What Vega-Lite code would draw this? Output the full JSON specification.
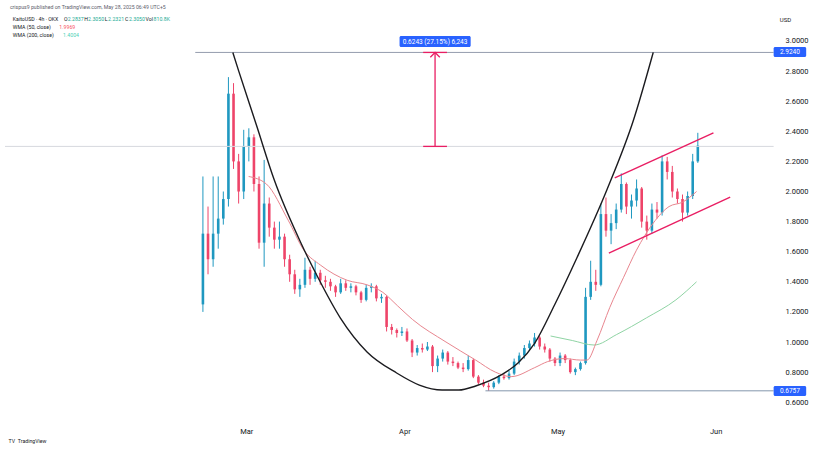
{
  "$schema": "https://vega.github.io/schema/vega-lite/v6.json",
  "width": 760,
  "height": 412,
  "autosize": {"type": "none"},
  "padding": {"left": 0, "top": 0, "right": 59, "bottom": 44},
  "background": "#ffffff",
  "config": {"view": {"stroke": null}, "font": "Roboto", "axis": {"labelOverlap": false}},
  "datasets": {
    "candles": [
      {"date":"2025-02-20T12:00","open":1.25,"high":2.10,"low":1.20,"close":1.72},
      {"date":"2025-02-21T12:00","open":1.72,"high":1.90,"low":1.45,"close":1.55},
      {"date":"2025-02-22T12:00","open":1.55,"high":2.10,"low":1.50,"close":1.72},
      {"date":"2025-02-23T12:00","open":1.72,"high":2.10,"low":1.62,"close":1.82},
      {"date":"2025-02-24T12:00","open":1.82,"high":2.00,"low":1.78,"close":1.95},
      {"date":"2025-02-25T12:00","open":1.95,"high":2.76,"low":1.90,"close":2.65},
      {"date":"2025-02-26T12:00","open":2.65,"high":2.72,"low":2.15,"close":2.20},
      {"date":"2025-02-27T12:00","open":2.20,"high":2.25,"low":1.92,"close":2.00},
      {"date":"2025-02-28T12:00","open":2.00,"high":2.41,"low":1.95,"close":2.30},
      {"date":"2025-03-01T12:00","open":2.30,"high":2.42,"low":2.20,"close":2.36},
      {"date":"2025-03-02T12:00","open":2.36,"high":2.38,"low":2.00,"close":2.05},
      {"date":"2025-03-03T12:00","open":2.05,"high":2.10,"low":1.62,"close":1.66},
      {"date":"2025-03-04T12:00","open":1.66,"high":2.21,"low":1.50,"close":1.92},
      {"date":"2025-03-05T12:00","open":1.92,"high":1.96,"low":1.70,"close":1.76},
      {"date":"2025-03-06T12:00","open":1.76,"high":1.80,"low":1.62,"close":1.68},
      {"date":"2025-03-07T12:00","open":1.68,"high":1.80,"low":1.62,"close":1.70},
      {"date":"2025-03-08T12:00","open":1.70,"high":1.72,"low":1.50,"close":1.55},
      {"date":"2025-03-09T12:00","open":1.55,"high":1.58,"low":1.40,"close":1.45},
      {"date":"2025-03-10T12:00","open":1.45,"high":1.48,"low":1.32,"close":1.35},
      {"date":"2025-03-11T12:00","open":1.35,"high":1.42,"low":1.30,"close":1.38},
      {"date":"2025-03-12T12:00","open":1.38,"high":1.56,"low":1.36,"close":1.48},
      {"date":"2025-03-13T12:00","open":1.48,"high":1.50,"low":1.38,"close":1.42},
      {"date":"2025-03-14T12:00","open":1.42,"high":1.54,"low":1.40,"close":1.46},
      {"date":"2025-03-15T12:00","open":1.46,"high":1.48,"low":1.38,"close":1.41},
      {"date":"2025-03-16T12:00","open":1.41,"high":1.44,"low":1.36,"close":1.40},
      {"date":"2025-03-17T12:00","open":1.40,"high":1.42,"low":1.34,"close":1.37},
      {"date":"2025-03-18T12:00","open":1.37,"high":1.38,"low":1.30,"close":1.33},
      {"date":"2025-03-19T12:00","open":1.33,"high":1.42,"low":1.32,"close":1.39},
      {"date":"2025-03-20T12:00","open":1.39,"high":1.41,"low":1.34,"close":1.36},
      {"date":"2025-03-21T12:00","open":1.36,"high":1.39,"low":1.33,"close":1.37},
      {"date":"2025-03-22T12:00","open":1.37,"high":1.38,"low":1.31,"close":1.33},
      {"date":"2025-03-23T12:00","open":1.33,"high":1.34,"low":1.26,"close":1.28},
      {"date":"2025-03-24T12:00","open":1.28,"high":1.38,"low":1.27,"close":1.36},
      {"date":"2025-03-25T12:00","open":1.36,"high":1.39,"low":1.33,"close":1.37},
      {"date":"2025-03-26T12:00","open":1.37,"high":1.38,"low":1.27,"close":1.29},
      {"date":"2025-03-27T12:00","open":1.29,"high":1.32,"low":1.26,"close":1.30},
      {"date":"2025-03-28T12:00","open":1.30,"high":1.31,"low":1.07,"close":1.10},
      {"date":"2025-03-29T12:00","open":1.10,"high":1.12,"low":1.05,"close":1.08},
      {"date":"2025-03-30T12:00","open":1.08,"high":1.09,"low":1.03,"close":1.06},
      {"date":"2025-03-31T12:00","open":1.06,"high":1.10,"low":1.04,"close":1.07},
      {"date":"2025-04-01T12:00","open":1.07,"high":1.09,"low":1.00,"close":1.01},
      {"date":"2025-04-02T12:00","open":1.01,"high":1.02,"low":0.90,"close":0.93},
      {"date":"2025-04-03T12:00","open":0.93,"high":0.98,"low":0.91,"close":0.96},
      {"date":"2025-04-04T12:00","open":0.96,"high":0.99,"low":0.93,"close":0.95},
      {"date":"2025-04-05T12:00","open":0.95,"high":1.00,"low":0.94,"close":0.97},
      {"date":"2025-04-06T12:00","open":0.97,"high":0.98,"low":0.80,"close":0.84},
      {"date":"2025-04-07T12:00","open":0.84,"high":0.91,"low":0.80,"close":0.89},
      {"date":"2025-04-08T12:00","open":0.89,"high":0.95,"low":0.87,"close":0.93},
      {"date":"2025-04-09T12:00","open":0.93,"high":0.94,"low":0.85,"close":0.87},
      {"date":"2025-04-10T12:00","open":0.87,"high":0.90,"low":0.84,"close":0.86},
      {"date":"2025-04-11T12:00","open":0.86,"high":0.87,"low":0.82,"close":0.83},
      {"date":"2025-04-12T12:00","open":0.83,"high":0.86,"low":0.80,"close":0.82},
      {"date":"2025-04-13T12:00","open":0.82,"high":0.91,"low":0.81,"close":0.88},
      {"date":"2025-04-14T12:00","open":0.88,"high":0.89,"low":0.76,"close":0.77},
      {"date":"2025-04-15T12:00","open":0.77,"high":0.78,"low":0.72,"close":0.73},
      {"date":"2025-04-16T12:00","open":0.73,"high":0.75,"low":0.70,"close":0.71},
      {"date":"2025-04-17T12:00","open":0.71,"high":0.73,"low":0.6757,"close":0.70},
      {"date":"2025-04-18T12:00","open":0.70,"high":0.74,"low":0.69,"close":0.73},
      {"date":"2025-04-19T12:00","open":0.73,"high":0.78,"low":0.72,"close":0.77},
      {"date":"2025-04-20T12:00","open":0.77,"high":0.79,"low":0.75,"close":0.76},
      {"date":"2025-04-21T12:00","open":0.76,"high":0.81,"low":0.75,"close":0.79},
      {"date":"2025-04-22T12:00","open":0.79,"high":0.89,"low":0.78,"close":0.87},
      {"date":"2025-04-23T12:00","open":0.87,"high":0.93,"low":0.85,"close":0.91},
      {"date":"2025-04-24T12:00","open":0.91,"high":0.98,"low":0.89,"close":0.96},
      {"date":"2025-04-25T12:00","open":0.96,"high":1.01,"low":0.94,"close":0.99},
      {"date":"2025-04-26T12:00","open":0.99,"high":1.06,"low":0.97,"close":1.03},
      {"date":"2025-04-27T12:00","open":1.03,"high":1.04,"low":0.95,"close":0.97},
      {"date":"2025-04-28T12:00","open":0.97,"high":0.99,"low":0.93,"close":0.95},
      {"date":"2025-04-29T12:00","open":0.95,"high":0.96,"low":0.87,"close":0.89},
      {"date":"2025-04-30T12:00","open":0.89,"high":0.90,"low":0.84,"close":0.86},
      {"date":"2025-05-01T12:00","open":0.86,"high":0.93,"low":0.84,"close":0.91},
      {"date":"2025-05-02T12:00","open":0.91,"high":0.92,"low":0.86,"close":0.88},
      {"date":"2025-05-03T12:00","open":0.88,"high":0.89,"low":0.79,"close":0.80},
      {"date":"2025-05-04T12:00","open":0.80,"high":0.83,"low":0.78,"close":0.82},
      {"date":"2025-05-05T12:00","open":0.82,"high":0.87,"low":0.81,"close":0.86},
      {"date":"2025-05-06T12:00","open":0.86,"high":1.36,"low":0.85,"close":1.30},
      {"date":"2025-05-07T12:00","open":1.30,"high":1.54,"low":1.28,"close":1.40},
      {"date":"2025-05-08T12:00","open":1.40,"high":1.48,"low":1.34,"close":1.38},
      {"date":"2025-05-09T12:00","open":1.38,"high":1.92,"low":1.37,"close":1.85},
      {"date":"2025-05-10T12:00","open":1.85,"high":1.96,"low":1.70,"close":1.74},
      {"date":"2025-05-11T12:00","open":1.74,"high":1.85,"low":1.65,"close":1.79},
      {"date":"2025-05-12T12:00","open":1.79,"high":1.92,"low":1.75,"close":1.88},
      {"date":"2025-05-13T12:00","open":1.88,"high":2.12,"low":1.86,"close":2.05},
      {"date":"2025-05-14T12:00","open":2.05,"high":2.06,"low":1.85,"close":1.90},
      {"date":"2025-05-15T12:00","open":1.90,"high":1.98,"low":1.82,"close":1.94},
      {"date":"2025-05-16T12:00","open":1.94,"high":2.08,"low":1.90,"close":2.02},
      {"date":"2025-05-17T12:00","open":2.02,"high":2.03,"low":1.76,"close":1.80},
      {"date":"2025-05-18T12:00","open":1.80,"high":1.84,"low":1.68,"close":1.74},
      {"date":"2025-05-19T12:00","open":1.74,"high":1.92,"low":1.72,"close":1.88},
      {"date":"2025-05-20T12:00","open":1.88,"high":1.93,"low":1.82,"close":1.86},
      {"date":"2025-05-21T12:00","open":1.86,"high":2.24,"low":1.84,"close":2.20},
      {"date":"2025-05-22T12:00","open":2.20,"high":2.23,"low":2.08,"close":2.13},
      {"date":"2025-05-23T12:00","open":2.13,"high":2.17,"low":1.96,"close":2.00},
      {"date":"2025-05-24T12:00","open":2.00,"high":2.02,"low":1.92,"close":1.95},
      {"date":"2025-05-25T12:00","open":1.95,"high":1.98,"low":1.80,"close":1.86},
      {"date":"2025-05-26T12:00","open":1.86,"high":2.00,"low":1.84,"close":1.97},
      {"date":"2025-05-27T12:00","open":1.97,"high":2.25,"low":1.95,"close":2.20},
      {"date":"2025-05-28T12:00","open":2.20,"high":2.39,"low":2.19,"close":2.305}
    ],
    "wma50": [
      {"date":"2025-03-01T11:00","price":2.10},
      {"date":"2025-03-04T22:30","price":2.05},
      {"date":"2025-03-09T04:50","price":1.81},
      {"date":"2025-03-12T07:00","price":1.61},
      {"date":"2025-03-15T14:00","price":1.51},
      {"date":"2025-03-20T19:00","price":1.41},
      {"date":"2025-03-24T16:00","price":1.38},
      {"date":"2025-03-27T18:15","price":1.33},
      {"date":"2025-03-30T16:00","price":1.24},
      {"date":"2025-04-02T13:40","price":1.15},
      {"date":"2025-04-09T03:20","price":1.00},
      {"date":"2025-04-14T23:00","price":0.88},
      {"date":"2025-04-18T19:30","price":0.80},
      {"date":"2025-04-21T22:00","price":0.77},
      {"date":"2025-04-26T13:00","price":0.83},
      {"date":"2025-04-29T01:40","price":0.87},
      {"date":"2025-05-02T08:30","price":0.89},
      {"date":"2025-05-05T10:50","price":0.88},
      {"date":"2025-05-06T19:10","price":0.88},
      {"date":"2025-05-08T17:45","price":1.01},
      {"date":"2025-05-11T06:00","price":1.23},
      {"date":"2025-05-13T23:00","price":1.43},
      {"date":"2025-05-16T11:20","price":1.61},
      {"date":"2025-05-19T18:15","price":1.79},
      {"date":"2025-05-22T20:40","price":1.90},
      {"date":"2025-05-25T13:30","price":1.93},
      {"date":"2025-05-28T06:00","price":2.00}
    ],
    "wma200": [
      {"date":"2025-04-29T15:30","price":1.04},
      {"date":"2025-05-03T21:40","price":1.01},
      {"date":"2025-05-08T03:50","price":0.98},
      {"date":"2025-05-12T14:30","price":1.05},
      {"date":"2025-05-18T09:50","price":1.16},
      {"date":"2025-05-24T05:00","price":1.28},
      {"date":"2025-05-28T06:00","price":1.40}
    ],
    "cup": [
      {"date":"2025-02-26T08:40","price":2.924},
      {"date":"2025-02-27T12:30","price":2.80},
      {"date":"2025-03-03T00:00","price":2.44},
      {"date":"2025-03-06T11:45","price":2.076},
      {"date":"2025-03-11T17:00","price":1.658},
      {"date":"2025-03-15T00:00","price":1.432},
      {"date":"2025-03-19T10:50","price":1.159},
      {"date":"2025-03-24T16:00","price":0.934},
      {"date":"2025-03-30T11:20","price":0.794},
      {"date":"2025-04-03T22:00","price":0.714},
      {"date":"2025-04-08T09:00","price":0.681},
      {"date":"2025-04-11T16:00","price":0.681},
      {"date":"2025-04-14T23:00","price":0.708},
      {"date":"2025-04-19T23:20","price":0.781},
      {"date":"2025-04-23T06:15","price":0.860},
      {"date":"2025-04-26T13:00","price":0.993},
      {"date":"2025-04-30T10:00","price":1.246},
      {"date":"2025-05-04T21:00","price":1.565},
      {"date":"2025-05-10T16:00","price":2.010},
      {"date":"2025-05-15T21:30","price":2.475},
      {"date":"2025-05-19T18:15","price":2.924}
    ],
    "channel": [
      {"line":"upper","date":"2025-05-12T05:15","price":2.090},
      {"line":"upper","date":"2025-05-31T13:30","price":2.389},
      {"line":"lower","date":"2025-05-11T01:30","price":1.591},
      {"line":"lower","date":"2025-06-03T20:25","price":1.963}
    ],
    "texts": [
      {"date":"2025-01-13T16:00","price":3.226,"text":"crispus9 published on TradingView.com, May 28, 2025 06:49 UTC+5","role":"meta"},
      {"date":"2025-01-14T06:00","price":3.146,"text":"KaitoUSD · 4h · OKX","role":"label"},
      {"date":"2025-01-24T06:00","price":3.146,"text":"O","role":"label"},
      {"date":"2025-01-25T00:00","price":3.146,"text":"2.2837","role":"val"},
      {"date":"2025-01-28T06:00","price":3.146,"text":"H","role":"label"},
      {"date":"2025-01-29T00:00","price":3.146,"text":"2.3050","role":"val"},
      {"date":"2025-02-01T06:00","price":3.146,"text":"L","role":"label"},
      {"date":"2025-02-01T22:00","price":3.146,"text":"2.2321","role":"val"},
      {"date":"2025-02-05T06:00","price":3.146,"text":"C","role":"label"},
      {"date":"2025-02-06T00:00","price":3.146,"text":"2.3050","role":"val"},
      {"date":"2025-02-09T06:00","price":3.146,"text":"Vol","role":"label"},
      {"date":"2025-02-10T20:00","price":3.146,"text":"810.8K","role":"val"},
      {"date":"2025-01-14T06:00","price":3.093,"text":"WMA (50, close)","role":"label"},
      {"date":"2025-01-23T08:20","price":3.093,"text":"1.9969","role":"wma50"},
      {"date":"2025-01-14T06:00","price":3.040,"text":"WMA (200, close)","role":"label"},
      {"date":"2025-01-24T02:00","price":3.040,"text":"1.4004","role":"wma200"},
      {"date":"2025-01-13T10:00","price":0.342,"text":"TV","role":"logo"},
      {"date":"2025-01-15T05:20","price":0.342,"text":"TradingView","role":"logo"}
    ]
  },
  "layer": [
    {
      "data": {"name": "candles"},
      "mark": {"type": "rule", "strokeWidth": 1},
      "encoding": {
        "x": {
          "field": "date", "type": "temporal", "title": null,
          "scale": {"domain": [{"year":2025,"month":1,"date":12,"hours":17},{"year":2025,"month":6,"date":8,"hours":17}]},
          "axis": {
            "values": [{"year":2025,"month":3,"date":1},{"year":2025,"month":4,"date":1},{"year":2025,"month":5,"date":1},{"year":2025,"month":6,"date":1}],
            "tickCount": 20,
            "format": "%b", "labelFontSize": 7.5, "labelColor": "#131722", "labelFont": "Roboto",
            "domain": false, "ticks": false, "tickSize": 0, "grid": false, "labelPadding": 15, "title": null
          }
        },
        "y": {
          "field": "low", "type": "quantitative", "title": null,
          "scale": {"domain": [0.535, 3.2724], "nice": false, "zero": false},
          "axis": {
            "orient": "right",
            "values": [0.6,0.8,1.0,1.2,1.4,1.6,1.8,2.0,2.2,2.4,2.6,2.8,3.0],
            "tickCount": 30,
            "format": ".4f", "labelFontSize": 7.5, "labelColor": "#131722", "labelFont": "Roboto",
            "labelOverlap": false, "labelBound": false,
            "domain": false, "ticks": false, "tickSize": 0, "grid": false, "labelPadding": 25, "title": null
          }
        },
        "y2": {"field": "high"},
        "color": {"condition": {"test": "datum.close >= datum.open", "value": "#1f98c0"}, "value": "#ee4469"}
      }
    },
    {
      "data": {"name": "candles"},
      "mark": {"type": "bar", "width": 2.6},
      "encoding": {
        "x": {"field": "date", "type": "temporal", "title": null},
        "y": {"field": "open", "type": "quantitative", "title": null},
        "y2": {"field": "close"},
        "color": {"condition": {"test": "datum.close >= datum.open", "value": "#1f98c0"}, "value": "#ee4469"}
      }
    },
    {
      "data": {"values": [{"date":"2025-01-12T17:00","date2":"2025-06-12T08:40","price":2.2997}]},
      "mark": {"type": "rule", "color": "#d6d8de", "strokeWidth": 1},
      "encoding": {
        "x": {"field": "date", "type": "temporal", "title": null},
        "x2": {"field": "date2"},
        "y": {"field": "price", "type": "quantitative", "title": null}
      }
    },
    {
      "data": {"values": [{"date":"2025-02-19T00:00","date2":"2025-06-12T08:40","price":2.924}]},
      "mark": {"type": "rule", "color": "#949cad", "strokeWidth": 1},
      "encoding": {
        "x": {"field": "date", "type": "temporal", "title": null},
        "x2": {"field": "date2"},
        "y": {"field": "price", "type": "quantitative", "title": null}
      }
    },
    {
      "data": {"values": [{"date":"2025-04-16T21:00","date2":"2025-06-12T08:40","price":0.6757}]},
      "mark": {"type": "rule", "color": "#8496ad", "strokeWidth": 1},
      "encoding": {
        "x": {"field": "date", "type": "temporal", "title": null},
        "x2": {"field": "date2"},
        "y": {"field": "price", "type": "quantitative", "title": null}
      }
    },
    {
      "data": {"name": "wma200"},
      "mark": {"type": "line", "color": "#8fd4a4", "strokeWidth": 1, "interpolate": "monotone"},
      "encoding": {
        "x": {"field": "date", "type": "temporal", "title": null},
        "y": {"field": "price", "type": "quantitative", "title": null}
      }
    },
    {
      "data": {"name": "wma50"},
      "mark": {"type": "line", "color": "#e8868f", "strokeWidth": 1, "interpolate": "monotone"},
      "encoding": {
        "x": {"field": "date", "type": "temporal", "title": null},
        "y": {"field": "price", "type": "quantitative", "title": null}
      }
    },
    {
      "data": {"name": "cup"},
      "mark": {"type": "line", "color": "#1b1b1f", "strokeWidth": 1.4, "interpolate": "monotone"},
      "encoding": {
        "x": {"field": "date", "type": "temporal", "title": null},
        "y": {"field": "price", "type": "quantitative", "title": null}
      }
    },
    {
      "data": {"name": "channel"},
      "mark": {"type": "line", "color": "#e91e63", "strokeWidth": 1.4},
      "encoding": {
        "x": {"field": "date", "type": "temporal", "title": null},
        "y": {"field": "price", "type": "quantitative", "title": null},
        "detail": {"field": "line"}
      }
    },
    {
      "data": {"values": [
        {"date":"2025-04-07T00:00","date2":"2025-04-07T00:00","price":2.2997,"price2":2.924},
        {"date":"2025-04-04T16:00","date2":"2025-04-09T08:00","price":2.2997,"price2":2.2997},
        {"date":"2025-04-04T16:00","date2":"2025-04-09T08:00","price":2.924,"price2":2.924}
      ]},
      "mark": {"type": "rule", "color": "#e91e63", "strokeWidth": 1.3},
      "encoding": {
        "x": {"field": "date", "type": "temporal", "title": null},
        "x2": {"field": "date2"},
        "y": {"field": "price", "type": "quantitative", "title": null},
        "y2": {"field": "price2"}
      }
    },
    {
      "data": {"values": [{"date":"2025-04-07T00:00","price":2.924}]},
      "mark": {"type": "point", "shape": "M -1 1 L 0 0 L 1 1", "filled": false, "size": 90, "stroke": "#e91e63", "strokeWidth": 1.3, "opacity": 1},
      "encoding": {
        "x": {"field": "date", "type": "temporal", "title": null},
        "y": {"field": "price", "type": "quantitative", "title": null}
      }
    },
    {
      "data": {"values": [
        {"date":"2025-03-31T01:00","date2":"2025-04-13T23:30","price":3.033,"price2":2.960},
        {"date":"2025-06-12T08:40","date2":"2025-06-18T17:45","price":2.960,"price2":2.894},
        {"date":"2025-06-12T08:40","date2":"2025-06-18T17:45","price":0.708,"price2":0.641}
      ]},
      "mark": {"type": "rect", "color": "#2962ff", "cornerRadius": 1.5},
      "encoding": {
        "x": {"field": "date", "type": "temporal", "title": null},
        "x2": {"field": "date2"},
        "y": {"field": "price", "type": "quantitative", "title": null},
        "y2": {"field": "price2"}
      }
    },
    {
      "data": {"values": [
        {"date":"2025-04-07T00:00","price":2.9965,"text":"0.6243 (27.15%) 6,243"},
        {"date":"2025-06-15T13:10","price":2.927,"text":"2.9240"},
        {"date":"2025-06-15T13:10","price":0.6745,"text":"0.6757"}
      ]},
      "mark": {"type": "text", "color": "#ffffff", "fontSize": 6.5, "align": "center", "baseline": "middle"},
      "encoding": {
        "x": {"field": "date", "type": "temporal", "title": null},
        "y": {"field": "price", "type": "quantitative", "title": null},
        "text": {"field": "text"}
      }
    },
    {
      "data": {"values": [{"date":"2025-06-14T16:20","price":3.14,"text":"USD"}]},
      "mark": {"type": "text", "color": "#131722", "fontSize": 6, "align": "center", "baseline": "middle"},
      "encoding": {
        "x": {"field": "date", "type": "temporal", "title": null},
        "y": {"field": "price", "type": "quantitative", "title": null},
        "text": {"field": "text"}
      }
    },
    {
      "data": {"name": "texts"},
      "mark": {"type": "text", "fontSize": 5.2, "align": "left", "baseline": "middle"},
      "encoding": {
        "x": {"field": "date", "type": "temporal", "title": null},
        "y": {"field": "price", "type": "quantitative", "title": null},
        "text": {"field": "text"},
        "color": {
          "field": "role", "type": "nominal", "legend": null,
          "scale": {"domain": ["meta","label","val","wma50","wma200","logo"], "range": ["#5d606b","#131722","#22ab94","#f7525f","#4dd0b5","#131722"]}
        }
      }
    }
  ]
}
